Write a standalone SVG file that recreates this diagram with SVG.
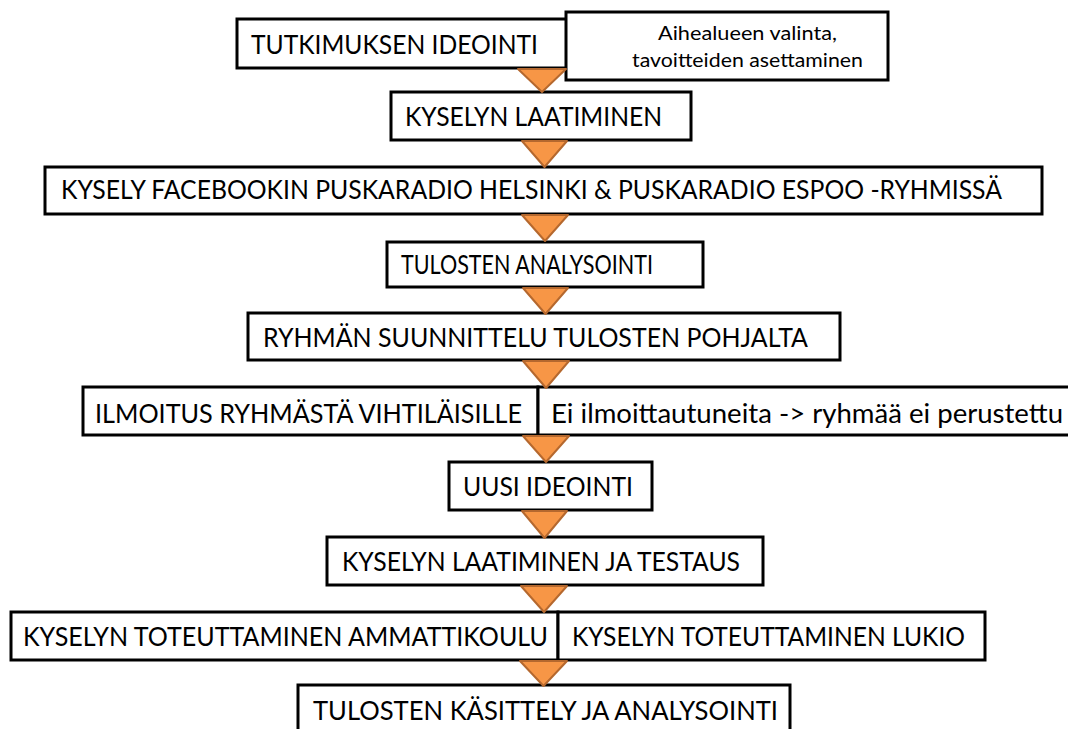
<svg xmlns="http://www.w3.org/2000/svg" width="1068" height="729" viewBox="0 0 1068 729">
<style>
.box{fill:#ffffff;stroke:#000000;stroke-width:3}
.t{font-family:Lato,"Liberation Sans",sans-serif;font-size:27.5px;fill:#000000}
.s{font-family:Lato,"Liberation Sans",sans-serif;font-size:19.5px;fill:#000000;text-anchor:middle}
.arr{fill:#F79646;stroke:#B5682E;stroke-width:2;stroke-linejoin:round}
</style>
<rect width="1068" height="729" fill="#ffffff"/>
<g id="n1"><rect class="box" x="237" y="19" width="343" height="49"/><text class="t" x="251" y="53.5" textLength="287" lengthAdjust="spacingAndGlyphs">TUTKIMUKSEN IDEOINTI</text></g>
<g id="n1note"><rect class="box" x="566" y="12" width="322" height="68"/><text class="s" x="747.5" y="40" textLength="179" lengthAdjust="spacingAndGlyphs">Aihealueen valinta,</text><text class="s" x="747.5" y="67" textLength="231" lengthAdjust="spacingAndGlyphs">tavoitteiden asettaminen</text></g>
<g id="n2"><rect class="box" x="391" y="92" width="300" height="48"/><text class="t" x="405" y="125.5" textLength="257" lengthAdjust="spacingAndGlyphs">KYSELYN LAATIMINEN</text></g>
<g id="n3"><rect class="box" x="45" y="167" width="997" height="47"/><text class="t" x="61" y="199" textLength="941" lengthAdjust="spacingAndGlyphs">KYSELY FACEBOOKIN PUSKARADIO HELSINKI &amp; PUSKARADIO ESPOO -RYHMISSÄ</text></g>
<g id="n4"><rect class="box" x="387" y="242" width="316" height="45"/><text class="t" x="401" y="274" textLength="252" lengthAdjust="spacingAndGlyphs">TULOSTEN ANALYSOINTI</text></g>
<g id="n5"><rect class="box" x="248" y="313" width="592" height="47"/><text class="t" x="263" y="347" textLength="545" lengthAdjust="spacingAndGlyphs">RYHMÄN SUUNNITTELU TULOSTEN POHJALTA</text></g>
<g id="n6a"><rect class="box" x="83" y="387" width="455" height="48"/><text class="t" x="95" y="422.5" textLength="427" lengthAdjust="spacingAndGlyphs">ILMOITUS RYHMÄSTÄ VIHTILÄISILLE</text></g>
<g id="n6b"><rect class="box" x="538" y="387" width="540" height="48"/><text class="t" x="551" y="422.5" textLength="512" lengthAdjust="spacingAndGlyphs">Ei ilmoittautuneita -&gt; ryhmää ei perustettu</text></g>
<g id="n7"><rect class="box" x="449" y="462" width="203" height="48"/><text class="t" x="463" y="495.5" textLength="170" lengthAdjust="spacingAndGlyphs">UUSI IDEOINTI</text></g>
<g id="n8"><rect class="box" x="327" y="537" width="436" height="48"/><text class="t" x="342" y="570.5" textLength="398" lengthAdjust="spacingAndGlyphs">KYSELYN LAATIMINEN JA TESTAUS</text></g>
<g id="n9a"><rect class="box" x="11" y="612" width="547" height="48"/><text class="t" x="23" y="645.5" textLength="525" lengthAdjust="spacingAndGlyphs">KYSELYN TOTEUTTAMINEN AMMATTIKOULU</text></g>
<g id="n9b"><rect class="box" x="558" y="612" width="427" height="48"/><text class="t" x="572" y="645.5" textLength="393" lengthAdjust="spacingAndGlyphs">KYSELYN TOTEUTTAMINEN LUKIO</text></g>
<g id="n10"><rect class="box" x="298" y="685" width="492" height="50"/><text class="t" x="313" y="719.5" textLength="465" lengthAdjust="spacingAndGlyphs">TULOSTEN KÄSITTELY JA ANALYSOINTI</text></g>
<g id="connectors">
<polygon class="arr" points="518,69 566,69 542,92"/>
<polygon class="arr" points="522,141 567,141 544.5,167"/>
<polygon class="arr" points="522,215 568,215 545,241"/>
<polygon class="arr" points="523,288 568,288 545.5,314"/>
<polygon class="arr" points="523,361 569,361 546,388"/>
<polygon class="arr" points="523,436 569,436 546,462"/>
<polygon class="arr" points="522,511 567,511 544.5,538"/>
<polygon class="arr" points="521,586 567,586 544,612"/>
<polygon class="arr" points="520,661 567,661 543.5,686"/>
</g>
</svg>
